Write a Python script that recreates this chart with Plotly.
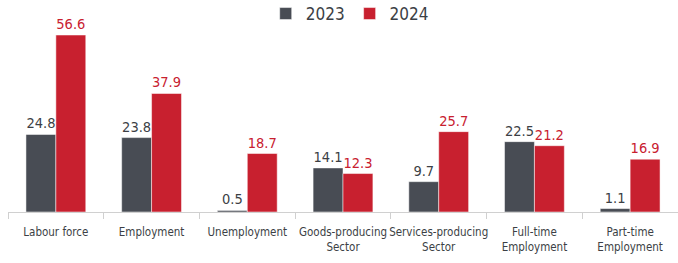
import plotly.graph_objects as go

categories = ["Labour force", "Employment", "Unemployment", "Goods-producing<br>Sector",
              "Services-producing<br>Sector", "Full-time<br>Employment", "Part-time<br>Employment"]
values_2023 = [24.8, 23.8, 0.5, 14.1, 9.7, 22.5, 1.1]
values_2024 = [56.6, 37.9, 18.7, 12.3, 25.7, 21.2, 16.9]

GRAY = "#484c54"
RED = "#c8202f"
TXT = "#3c3f45"
FONT = "'Liberation Sans Narrow', 'DejaVu Sans Condensed', Roboto, sans-serif"

fig = go.Figure()
fig.add_trace(go.Bar(
    name="2023", x=categories, y=values_2023, marker=dict(color=GRAY, line=dict(color="white", width=0.5)),
    text=[f"{v:.1f}" for v in values_2023], textposition="outside",
    textfont=dict(color=TXT, size=14.5, family=FONT), cliponaxis=False,
))
fig.add_trace(go.Bar(
    name="2024", x=categories, y=values_2024, marker=dict(color=RED, line=dict(color="white", width=0.5)),
    text=[f"{v:.1f}" for v in values_2024], textposition="outside",
    textfont=dict(color=RED, size=14.5, family=FONT), cliponaxis=False,
))

fig.update_layout(
    width=678, height=263,
    margin=dict(l=8, r=0, t=0, b=51, autoexpand=False),
    barmode="group", bargap=0.375, bargroupgap=0,
    plot_bgcolor="white", paper_bgcolor="white",
    font=dict(family=FONT, color=TXT),
    showlegend=True,
    legend=dict(orientation="h", x=0.51, xanchor="center", y=0.934, yanchor="middle",
                font=dict(size=17, color=TXT, family=FONT),
                bgcolor="rgba(0,0,0,0)"),
    xaxis=dict(showline=True, linecolor="#d0d0d0", linewidth=1, automargin=False,
               ticks="outside", tickson="boundaries", ticklen=6, tickcolor="#d0d0d0",
               tickangle=0, ticklabelstandoff=9,
               tickfont=dict(size=11.5, color=TXT, family=FONT), showgrid=False),
    yaxis=dict(visible=False, range=[0, 67.8], showgrid=False, zeroline=False),
)

fig.write_html("out.html", config={"displayModeBar": False},
               post_script="document.body.style.margin='0';")
